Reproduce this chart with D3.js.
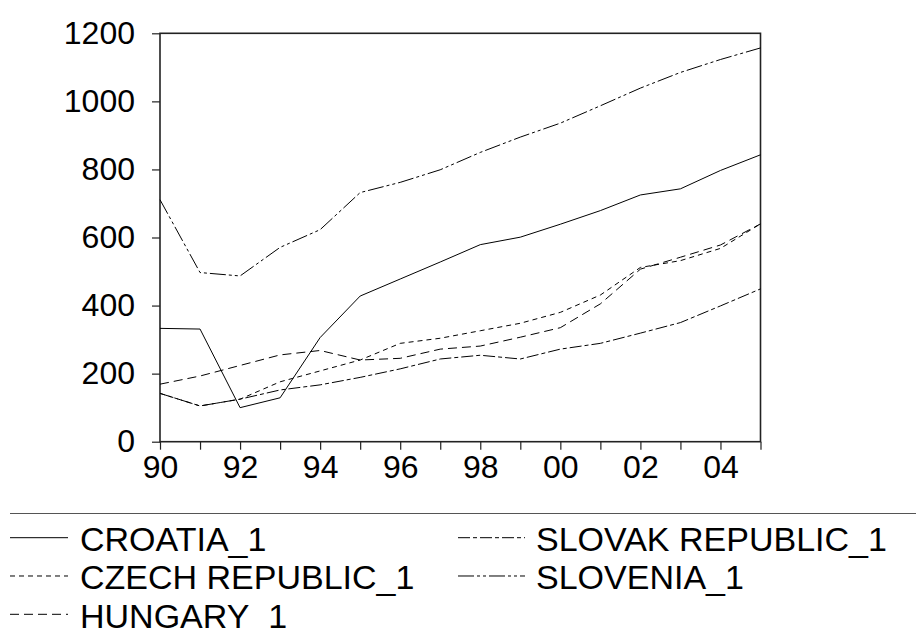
<!DOCTYPE html>
<html>
<head>
<meta charset="utf-8">
<script src="https://cdn.jsdelivr.net/npm/d3@7"></script>
<style>
  body { margin: 0; background: #fff; }
  text { font-family: 'Liberation Sans', Arial, sans-serif; }
</style>
</head>
<body>
<div class="container"></div>
<script>
var w = 916, h = 632

// data
var years = [1990, 1991, 1992, 1993, 1994, 1995, 1996, 1997, 1998, 1999, 2000, 2001, 2002, 2003, 2004, 2005]
var croatia  = [333, 331, 100, 129, 306, 428, 478, 528, 579, 601, 639, 679, 725, 743, 797, 843]
var czech    = [142, 105, 125, 176, 208, 240, 289, 304, 326, 348, 380, 431, 512, 532, 568, 640]
var hungary  = [169, 193, 224, 255, 268, 240, 245, 272, 281, 307, 335, 405, 507, 542, 578, 640]
var slovak   = [142, 105, 125, 152, 167, 189, 214, 243, 254, 243, 272, 289, 319, 350, 399, 449]
var slovenia = [711, 497, 487, 571, 623, 732, 762, 799, 850, 895, 936, 987, 1039, 1085, 1123, 1157]
var yTicks = [0, 200, 400, 600, 800, 1000, 1200]
var xLabels = [1990, 1992, 1994, 1996, 1998, 2000, 2002, 2004]

var series = [
    { name: 'CROATIA_1',         values: croatia,  dash: null },
    { name: 'CZECH REPUBLIC_1',  values: czech,    dash: '5,4' },
    { name: 'HUNGARY_1',         values: hungary,  dash: '9,5' },
    { name: 'SLOVAK REPUBLIC_1', values: slovak,   dash: '12,3,4,3' },
    { name: 'SLOVENIA_1',        values: slovenia, dash: '16,3,3,3,3,3' }
]

var pLeft = 160, pRight = 760.5, pTop = 33.3, pBottom = 441.7
var font = '32px', legendFont = '34px'

var svg = d3.select('.container')
    .append('svg')
    .attr('width', w)
    .attr('height', h)

svg.append('rect')
    .attr('width', '100%')
    .attr('height', '100%')
    .style('fill', '#fff')

var x = d3.scaleLinear().domain([1990, 2005]).range([pLeft, pRight])
var y = d3.scaleLinear().domain([0, 1200]).range([pBottom, pTop])

// frame
svg.append('rect')
    .attr('x', pLeft)
    .attr('y', pTop)
    .attr('width', pRight - pLeft)
    .attr('height', pBottom - pTop)
    .style('fill', 'none')
    .style('stroke', '#222')
    .style('stroke-width', 1.6)

// y axis
var yAxis = svg.append('g')
    .attr('transform', 'translate(' + pLeft + ',0)')
    .call(d3.axisLeft(y).tickValues(yTicks).tickSize(8).tickPadding(17).tickFormat(d3.format('d')))
yAxis.select('.domain').remove()
yAxis.selectAll('line').style('stroke', '#222').style('stroke-width', 1.2)
yAxis.selectAll('text')
    .style('font-size', font)
    .style('font-family', "'Liberation Sans', Arial, sans-serif")
    .style('fill', '#000')

// x axis, tick every year, label every other year
var xAxis = svg.append('g')
    .attr('transform', 'translate(0,' + pBottom + ')')
    .call(d3.axisBottom(x).tickValues(years).tickSize(8).tickPadding(6)
        .tickFormat(d => xLabels.indexOf(d) >= 0 ? d3.format('02d')(d % 100) : ''))
xAxis.select('.domain').remove()
xAxis.selectAll('line').style('stroke', '#222').style('stroke-width', 1.2)
xAxis.selectAll('text')
    .style('font-size', font)
    .style('font-family', "'Liberation Sans', Arial, sans-serif")
    .style('fill', '#000')

// lines
var line = d3.line()
    .x((d, i) => x(years[i]))
    .y(d => y(d))

svg.selectAll('.series')
    .data(series)
    .enter()
    .append('path')
    .attr('class', 'series')
    .attr('d', d => line(d.values))
    .style('fill', 'none')
    .style('stroke', '#000')
    .style('stroke-width', 1)
    .style('stroke-dasharray', d => d.dash)

// legend
svg.append('line')
    .attr('x1', 10)
    .attr('x2', 916)
    .attr('y1', 513.5)
    .attr('y2', 513.5)
    .style('stroke', '#555')
    .style('stroke-width', 1.2)

var legendOrder = ['CROATIA_1', 'SLOVAK REPUBLIC_1', 'CZECH REPUBLIC_1', 'SLOVENIA_1', 'HUNGARY_1']
var legendData = legendOrder.map(n => series.find(s => s.name == n))

var lg = svg.selectAll('.legend')
    .data(legendData)
    .enter()
    .append('g')
    .attr('class', 'legend')
    .attr('transform', (d, i) => 'translate(' + (i % 2 ? 458 : 10) + ',' + (551 + Math.floor(i / 2) * 38.3) + ')')

lg.append('line')
    .attr('x1', 0)
    .attr('x2', (d, i) => i % 2 ? 67 : 58)
    .attr('y1', -13.3)
    .attr('y2', -13.3)
    .style('stroke', '#000')
    .style('stroke-width', 1)
    .style('stroke-dasharray', d => d.dash)

lg.append('text')
    .attr('x', (d, i) => i % 2 ? 78 : 70)
    .attr('y', 0)
    .style('font-size', legendFont)
    .style('fill', '#000')
    .text(d => d.name)
</script>
</body>
</html>
